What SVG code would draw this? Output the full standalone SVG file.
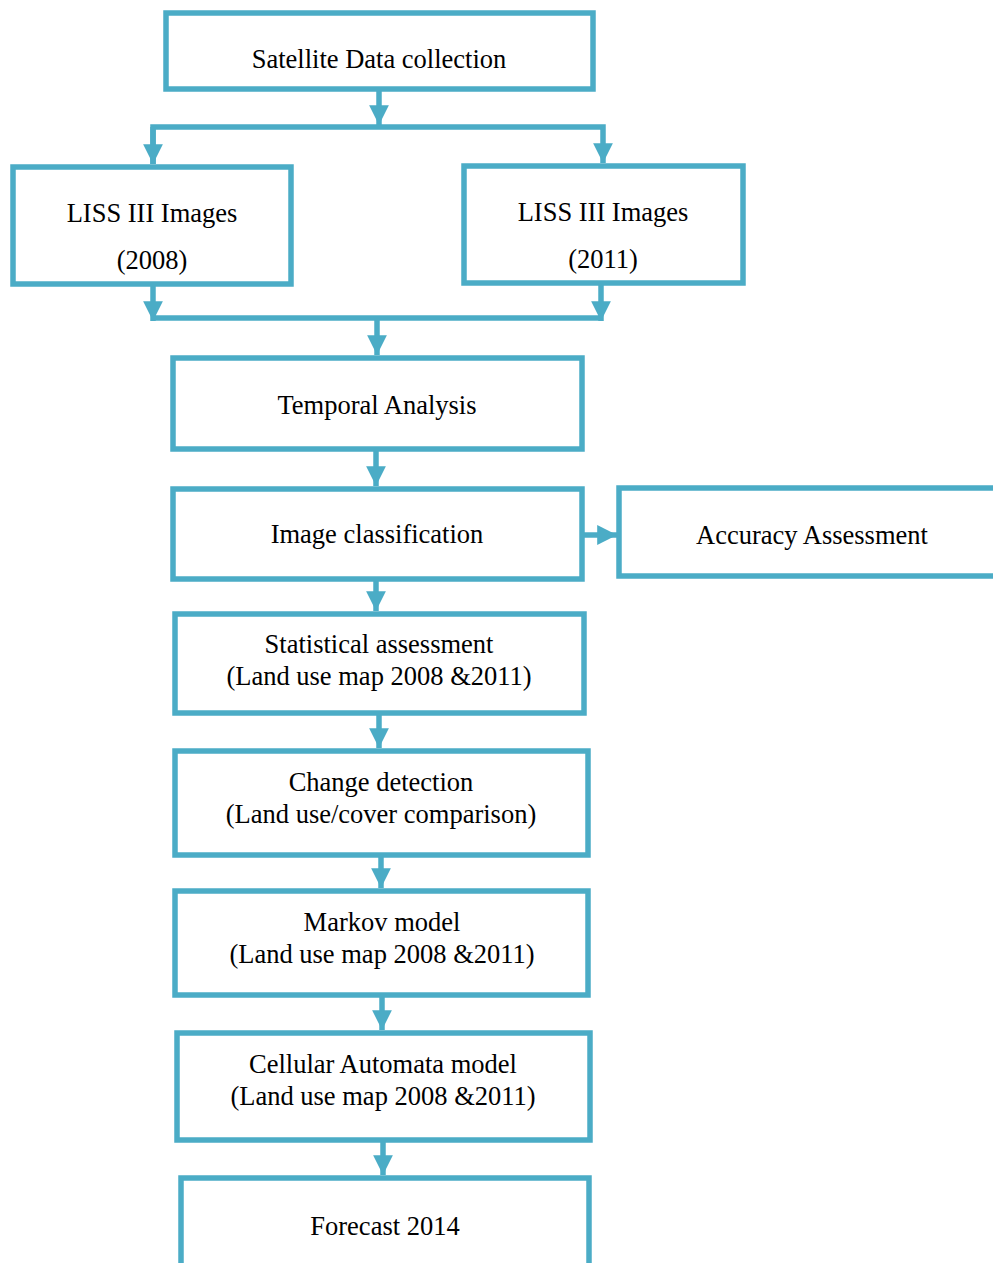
<svg xmlns="http://www.w3.org/2000/svg" width="993" height="1263" viewBox="0 0 993 1263">
<defs>
<style>
.box{fill:#fff;stroke:#4BACC6;stroke-width:5.5}
.ln{fill:none;stroke:#4BACC6;stroke-width:5.5}
.t{font-family:"Liberation Serif","Times New Roman",serif;font-size:26.5px;fill:#000;text-anchor:middle}
</style>
<marker id="ah" viewBox="0 0 10 10" refX="10" refY="5" markerWidth="3.6" markerHeight="3.6" markerUnits="strokeWidth" orient="auto">
<path d="M0,0 L10,5 L0,10 Z" fill="#4BACC6"/>
</marker>
</defs>
<rect width="993" height="1263" fill="#fff"/>
<g id="connectors">
<path class="ln" d="M379,90 V125" marker-end="url(#ah)"/>
<path class="ln" d="M153,164 V127 H603 V163" marker-end="url(#ah)"/>
<path class="ln" d="M153,127 V164" marker-end="url(#ah)"/>
<path class="ln" d="M153,285 V321" marker-end="url(#ah)"/>
<path class="ln" d="M601,284 V321" marker-end="url(#ah)"/>
<path class="ln" d="M153,318 H601"/>
<path class="ln" d="M377,318 V355" marker-end="url(#ah)"/>
<path class="ln" d="M376,450 V486" marker-end="url(#ah)"/>
<path class="ln" d="M583,535 H617" marker-end="url(#ah)"/>
<path class="ln" d="M376,580 V611" marker-end="url(#ah)"/>
<path class="ln" d="M379,714 V748" marker-end="url(#ah)"/>
<path class="ln" d="M381,856 V888" marker-end="url(#ah)"/>
<path class="ln" d="M382,996 V1030" marker-end="url(#ah)"/>
<path class="ln" d="M383,1141 V1175" marker-end="url(#ah)"/>
</g>
<g id="satellite"><rect class="box" x="166" y="13" width="427" height="76"/><text class="t" x="379" y="68">Satellite Data collection</text></g>
<g id="liss2008"><rect class="box" x="13" y="167" width="278" height="117"/><text class="t" x="152" y="222">LISS III Images</text><text class="t" x="152" y="269">(2008)</text></g>
<g id="liss2011"><rect class="box" x="464" y="166" width="279" height="117"/><text class="t" x="603" y="221">LISS III Images</text><text class="t" x="603" y="268">(2011)</text></g>
<g id="temporal"><rect class="box" x="173" y="358" width="409" height="91"/><text class="t" x="377" y="414">Temporal Analysis</text></g>
<g id="classification"><rect class="box" x="173" y="489" width="409" height="90"/><text class="t" x="377" y="543">Image classification</text></g>
<g id="accuracy"><rect class="box" x="619" y="488" width="380" height="88"/><text class="t" x="812" y="544">Accuracy Assessment</text></g>
<g id="statistical"><rect class="box" x="175" y="614" width="409" height="99"/><text class="t" x="379" y="653">Statistical assessment</text><text class="t" x="379" y="685">(Land use map 2008 &amp;2011)</text></g>
<g id="change"><rect class="box" x="175" y="751" width="413" height="104"/><text class="t" x="381" y="791">Change detection</text><text class="t" x="381" y="823">(Land use/cover comparison)</text></g>
<g id="markov"><rect class="box" x="175" y="891" width="413" height="104"/><text class="t" x="382" y="931">Markov model</text><text class="t" x="382" y="963">(Land use map 2008 &amp;2011)</text></g>
<g id="cellular"><rect class="box" x="177" y="1033" width="413" height="107"/><text class="t" x="383" y="1073">Cellular Automata model</text><text class="t" x="383" y="1105">(Land use map 2008 &amp;2011)</text></g>
<g id="forecast"><rect class="box" x="181" y="1178" width="408" height="100"/><text class="t" x="385" y="1235">Forecast 2014</text></g>
</svg>
